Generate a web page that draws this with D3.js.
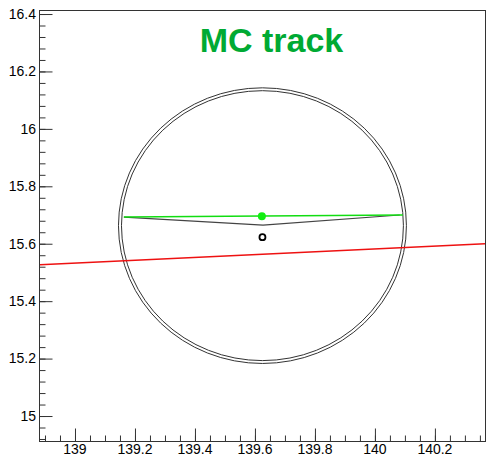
<!DOCTYPE html>
<html>
<head>
<meta charset="utf-8">
<script src="https://cdn.jsdelivr.net/npm/d3@7"></script>
<style>
html,body{margin:0;padding:0;background:#fff;}
svg{display:block;}
text{font-family:"Liberation Sans",Arial,Helvetica,sans-serif;}
</style>
</head>
<body>
<svg id="chart" width="486" height="457"></svg>
<script>
// ---- data ----
const xDomain = [138.88, 140.367];
const yDomain = [14.913, 16.414];
const xTickValues = [139, 139.2, 139.4, 139.6, 139.8, 140, 140.2];
const xTickLabels = ["139", "139.2", "139.4", "139.6", "139.8", "140", "140.2"];
const yTickValues = [15, 15.2, 15.4, 15.6, 15.8, 16, 16.2, 16.4];
const yTickLabels = ["15", "15.2", "15.4", "15.6", "15.8", "16", "16.2", "16.4"];
const circleCenter = [139.625, 15.663];
const circleRadii = [0.470, 0.480];
const redLine = [[138.88, 15.527], [140.367, 15.600]];
const mcTrackLine = [[139.163, 15.693], [140.093, 15.700]];
const recoLine = [[139.163, 15.693], [139.627, 15.665], [140.083, 15.700]];
const mcPoint = [139.623, 15.696];
const recoPoint = [139.625, 15.623];
const titleText = "MC track";
const titlePos = [139.655, 16.268];

// ---- layout ----
const mLeft = 39, mRight = 485, mTop = 10, mBottom = 441;
const svg = d3.select("#chart");
const x = d3.scaleLinear().domain(xDomain).range([mLeft, mRight]);
const y = d3.scaleLinear().domain(yDomain).range([mBottom, mTop]);

const axisColor = "#333";

// frame
svg.append("rect")
  .attr("x", mLeft + 0.5).attr("y", mTop + 0.5)
  .attr("width", mRight - mLeft).attr("height", mBottom - mTop)
  .attr("fill", "none").attr("stroke", axisColor).attr("stroke-width", 1);

// minor ticks
const xMinor = d3.range(Math.ceil(xDomain[0] / 0.05), Math.floor(xDomain[1] / 0.05) + 1).map(i => +(i * 0.05).toFixed(3));
const yMinor = d3.range(Math.ceil(yDomain[0] / 0.04), Math.floor(yDomain[1] / 0.04) + 1).map(i => +(i * 0.04).toFixed(3));

const xAxis = d3.axisTop(x).tickValues(xMinor).tickSize(6).tickFormat("");
const xAxisMajor = d3.axisTop(x).tickValues(xTickValues).tickSize(13).tickFormat("");
const yAxis = d3.axisRight(y).tickValues(yMinor).tickSize(6).tickFormat("");
const yAxisMajor = d3.axisRight(y).tickValues(yTickValues).tickSize(13).tickFormat("");

function styleAxis(g) {
  g.select(".domain").remove();
  g.selectAll("line").attr("stroke", axisColor);
}
svg.append("g").attr("transform", `translate(0,${mBottom + 0.5})`).call(xAxis).call(styleAxis);
svg.append("g").attr("transform", `translate(0,${mBottom + 0.5})`).call(xAxisMajor).call(styleAxis);
svg.append("g").attr("transform", `translate(${mLeft + 0.5},0)`).call(yAxis).call(styleAxis);
svg.append("g").attr("transform", `translate(${mLeft + 0.5},0)`).call(yAxisMajor).call(styleAxis);

// tick labels
svg.append("g").selectAll("text").data(xTickValues).join("text")
  .attr("x", d => x(d)).attr("y", 454)
  .attr("text-anchor", "middle").attr("font-size", 14).attr("fill", "#000")
  .text((d, i) => xTickLabels[i]);
svg.append("g").selectAll("text").data(yTickValues).join("text")
  .attr("x", 36).attr("y", d => y(d)).attr("dy", "0.35em")
  .attr("text-anchor", "end").attr("font-size", 14).attr("fill", "#000")
  .text((d, i) => yTickLabels[i]);

// plot area clip
svg.append("clipPath").attr("id", "clip").append("rect")
  .attr("x", mLeft + 1).attr("y", mTop + 1).attr("width", mRight - mLeft - 1).attr("height", mBottom - mTop - 1);
const plot = svg.append("g").attr("clip-path", "url(#clip)");

// double circle
plot.selectAll("ellipse").data(circleRadii).join("ellipse")
  .attr("cx", x(circleCenter[0])).attr("cy", y(circleCenter[1]))
  .attr("rx", r => x(circleCenter[0] + r) - x(circleCenter[0]))
  .attr("ry", r => y(circleCenter[1]) - y(circleCenter[1] + r))
  .attr("fill", "none").attr("stroke", "#333").attr("stroke-width", 1);

const line = d3.line().x(d => x(d[0])).y(d => y(d[1]));

plot.append("path").attr("d", line(redLine))
  .attr("fill", "none").attr("stroke", "#ee1111").attr("stroke-width", 1.5);
plot.append("path").attr("d", line(recoLine))
  .attr("fill", "none").attr("stroke", "#444").attr("stroke-width", 1.2);
plot.append("path").attr("d", line(mcTrackLine))
  .attr("fill", "none").attr("stroke", "#11dd11").attr("stroke-width", 1.6);

plot.append("circle").attr("cx", x(mcPoint[0])).attr("cy", y(mcPoint[1])).attr("r", 4)
  .attr("fill", "#11ee11");
plot.append("circle").attr("cx", x(recoPoint[0])).attr("cy", y(recoPoint[1])).attr("r", 3)
  .attr("fill", "none").attr("stroke", "#000").attr("stroke-width", 1.8);

// title
svg.append("text").attr("x", x(titlePos[0])).attr("y", y(titlePos[1]))
  .attr("text-anchor", "middle").attr("font-size", 34).attr("font-weight", "bold")
  .attr("fill", "#00aa33").text(titleText);
</script>
</body>
</html>
